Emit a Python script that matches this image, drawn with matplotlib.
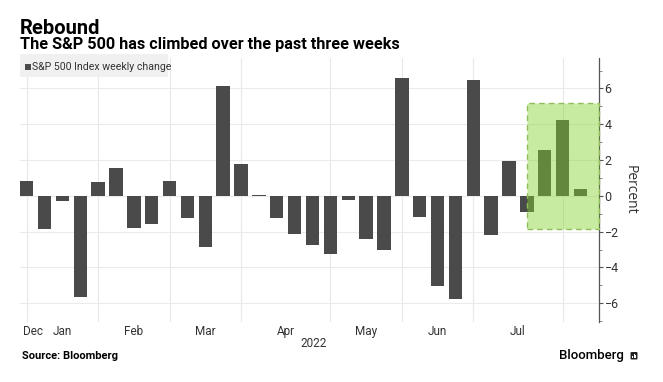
import numpy as np
import pandas as pd
import matplotlib
matplotlib.use("Agg")
import matplotlib.pyplot as plt
from matplotlib.patches import Rectangle, FancyBboxPatch
from matplotlib.ticker import MultipleLocator

# week ending dates and weekly % change of the S&P 500
weeks = ["2021-12-31", "2022-01-07", "2022-01-14", "2022-01-21", "2022-01-28",
         "2022-02-04", "2022-02-11", "2022-02-18", "2022-02-25", "2022-03-04",
         "2022-03-11", "2022-03-18", "2022-03-25", "2022-04-01", "2022-04-08",
         "2022-04-14", "2022-04-22", "2022-04-29", "2022-05-06", "2022-05-13",
         "2022-05-20", "2022-05-27", "2022-06-03", "2022-06-10", "2022-06-17",
         "2022-06-24", "2022-07-01", "2022-07-08", "2022-07-15", "2022-07-22",
         "2022-07-29", "2022-08-05"]
change = [0.85, -1.87, -0.28, -5.67, 0.77, 1.56, -1.81, -1.58, 0.83, -1.26,
          -2.88, 6.16, 1.79, 0.07, -1.26, -2.13, -2.75, -3.26, -0.21, -2.41,
          -3.05, 6.58, -1.20, -5.05, -5.79, 6.45, -2.21, 1.94, -0.93, 2.55,
          4.26, 0.37]
highlight_from = "2022-07-15"
highlight_low, highlight_high = -1.87, 5.2

dates = pd.to_datetime(weeks)
x = np.arange(len(change))

tick_font = ["Roboto", "DejaVu Sans"]
txt_col = "#333333"

fig = plt.figure(figsize=(6.63, 3.82), dpi=100)
W, H = 663, 382
ax = fig.add_axes([20 / W, 1 - 322 / H, (599 - 20) / W, (322 - 58) / H])

ax.bar(x, change, width=0.75, color="#4a4a4a", zorder=2)
ax.set_xlim(-0.375, 32.04)
ax.set_ylim(-7.05, 7.7)

# month boundaries = last week of each month
months = dates.month
bounds = [i for i in range(len(x) - 1) if months[i] != months[i + 1]]
for b in bounds:
    ax.axvline(b, color="#e8e8e8", lw=0.8, zorder=0)
ax.set_xticks([])
for k in range(len(bounds) - 1):
    mid = (bounds[k] + bounds[k + 1]) / 2
    ax.text(mid, -0.012, dates[bounds[k] + 1].strftime("%b"), transform=ax.get_xaxis_transform(),
            ha="center", va="top", fontsize=8.5, family=tick_font, color=txt_col)
ax.text(0.005, -0.012, dates[0].strftime("%b"), transform=ax.transAxes,
        ha="left", va="top", fontsize=8.5, family=tick_font, color=txt_col)
ax.text(0.507, -0.058, str(dates[-1].year), transform=ax.transAxes,
        ha="center", va="top", fontsize=8.5, family=tick_font, color=txt_col)

# y axis on the right
ax.yaxis.tick_right()
ax.yaxis.set_label_position("right")
ax.yaxis.set_major_locator(MultipleLocator(2))
ax.yaxis.set_minor_locator(MultipleLocator(1))
ax.tick_params(axis="y", which="major", length=3, width=0.8, color="#555555", pad=1,
               labelsize=9, labelcolor=txt_col)
ax.tick_params(axis="y", which="minor", length=2, width=0.6, color="#777777")
for lab in ax.get_yticklabels():
    lab.set_family(tick_font)
ax.grid(axis="y", which="major", color="#ebebeb", lw=0.8, zorder=0)
ax.set_axisbelow(True)
for s in ["top", "left", "bottom"]:
    ax.spines[s].set_visible(False)
ax.spines["right"].set_color("#555555")
ax.spines["right"].set_linewidth(0.9)
ax.set_ylabel("Percent", rotation=270, labelpad=14, fontsize=10, color=txt_col,
              family=["Open Sans", "DejaVu Sans"])

# highlight box for the last weeks
hx = int(np.where(dates == pd.Timestamp(highlight_from))[0][0])
x1 = ax.get_xlim()[1]
ax.add_patch(Rectangle((hx, highlight_low), x1 - hx, highlight_high - highlight_low,
                       facecolor=(0.514, 0.827, 0.173, 0.45), edgecolor="#8fbd5c",
                       lw=1, ls=(0, (4, 3)), zorder=3, clip_on=False))

# legend box
fig.patches.append(Rectangle((20 / W, 1 - 77 / H), 148 / W, 23 / H, transform=fig.transFigure,
                             facecolor="#f0f0f0", edgecolor="none"))
fig.patches.append(Rectangle((25 / W, 1 - 70 / H), 6 / W, 6 / H, transform=fig.transFigure,
                             facecolor="#4a4a4a", edgecolor="none"))
fig.text(32.5 / W, 1 - 66.5 / H, "S&P 500 Index weekly change", ha="left", va="center",
         fontsize=7.6, family=tick_font, color=txt_col)

# titles
fig.text(20 / W, 1 - 28 / H, "Rebound", ha="left", va="center", fontsize=14.5,
         fontweight="bold", family=["Roboto", "DejaVu Sans"], color="black")
fig.text(20 / W, 1 - 45 / H, "The S&P 500 has climbed over the past three weeks", ha="left",
         va="center", fontsize=11.7, fontweight="bold", family=["Roboto", "DejaVu Sans"],
         color="black")

# footer
fig.text(22 / W, 1 - 356 / H, "Source: Bloomberg", ha="left", va="center", fontsize=8,
         fontweight="bold", family=["Roboto", "DejaVu Sans"], color="black")
fig.text(624 / W, 1 - 356 / H, "Bloomberg", ha="right", va="center", fontsize=9.5,
         fontweight="medium", family=["Roboto", "DejaVu Sans"], color="black")
fig.patches.append(FancyBboxPatch((630.5 / W, 1 - 359.5 / H), 7 / W, 7.5 / H,
                                  boxstyle="round,pad=0,rounding_size=0.002",
                                  transform=fig.transFigure, facecolor="#222222",
                                  edgecolor="none"))
for i, hgt in enumerate([2.5, 4, 3]):
    fig.patches.append(Rectangle(((632 + i * 1.7) / W, 1 - 358 / H), 1 / W, hgt / H,
                                 transform=fig.transFigure, facecolor="white",
                                 edgecolor="none"))

fig.savefig("out.png", dpi=100, facecolor="white")
